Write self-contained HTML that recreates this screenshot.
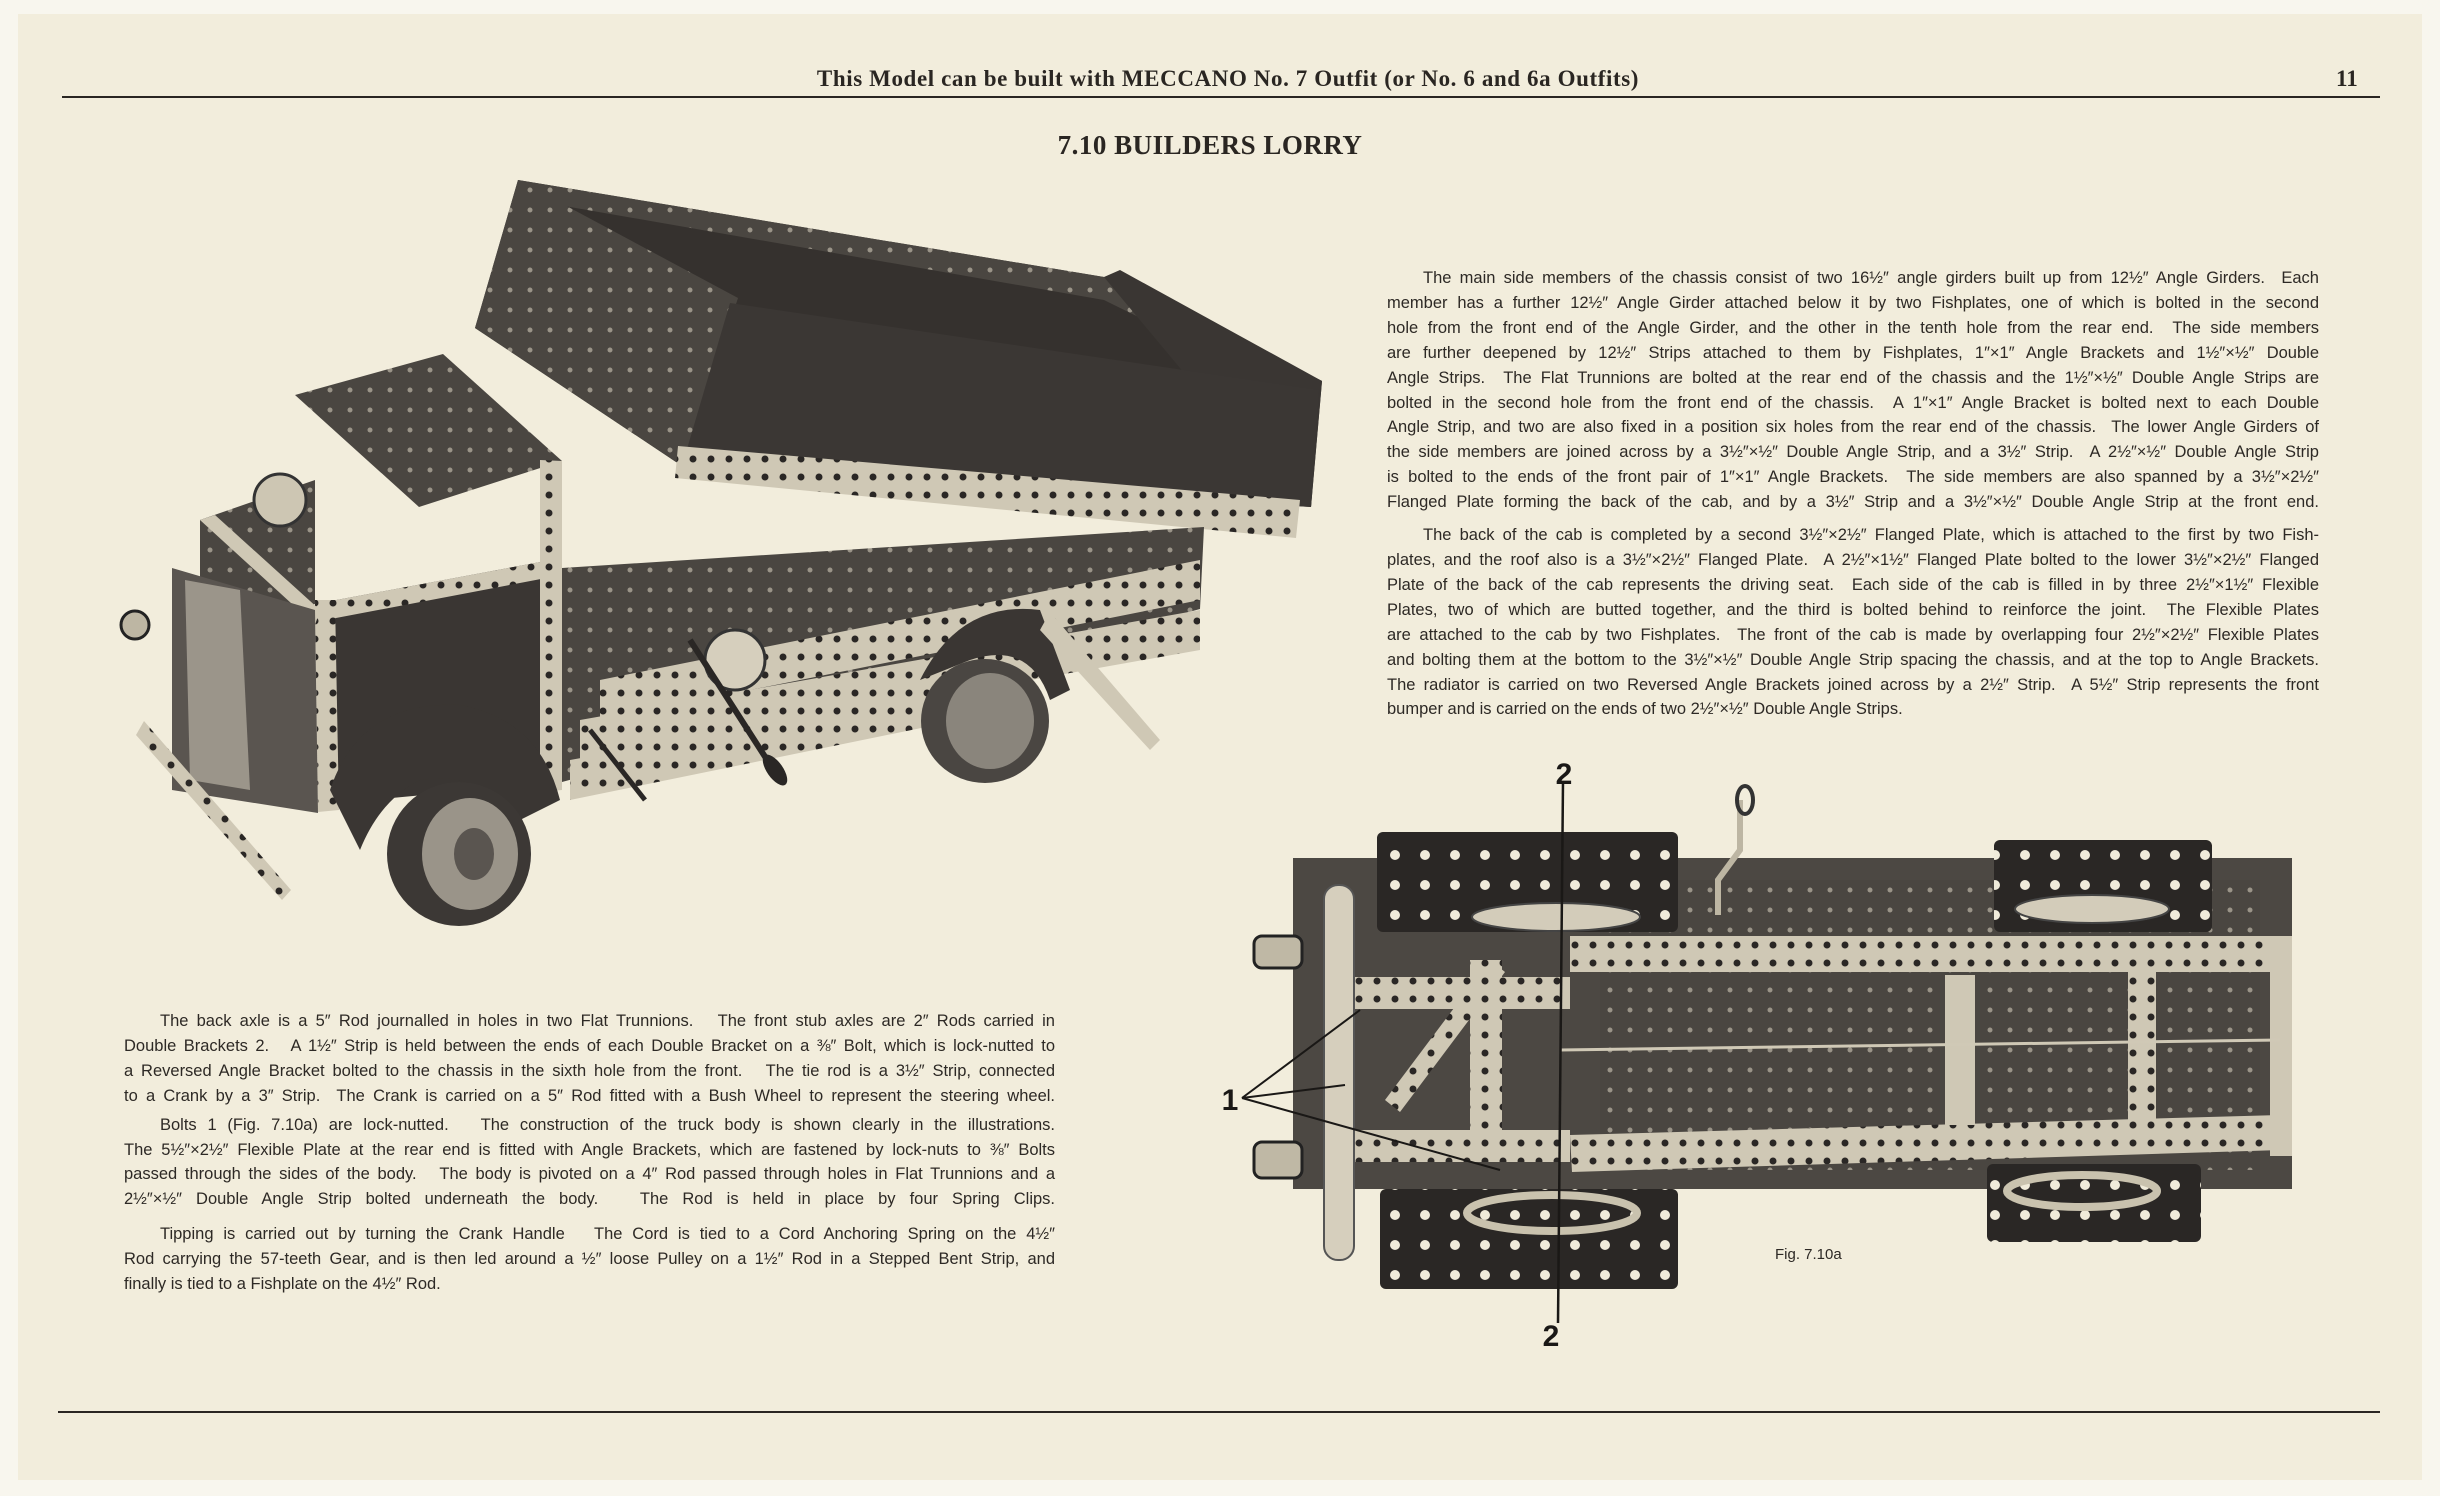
<!DOCTYPE html>
<html><head><meta charset="utf-8">
<style>
html,body{margin:0;padding:0;}
body{width:2440px;height:1496px;background:#f8f6ee;position:relative;overflow:hidden;font-family:"Liberation Sans",sans-serif;color:#2a2622;}
#page{position:absolute;left:18px;top:14px;width:2404px;height:1466px;background:#f2eddc;}
.abs{position:absolute;}
.hline{position:absolute;height:2px;background:#2a2622;}
.hdr{position:absolute;top:66px;left:620px;width:1216px;text-align:center;font-family:"Liberation Serif",serif;font-weight:bold;font-size:23px;letter-spacing:0.6px;}
.pg{position:absolute;top:66px;left:2336px;font-family:"Liberation Serif",serif;font-weight:bold;font-size:23px;}
.title{position:absolute;top:130px;left:900px;width:620px;text-align:center;font-family:"Liberation Serif",serif;font-weight:bold;font-size:27px;letter-spacing:0.5px;}
.txt{position:absolute;font-size:16.5px;line-height:24.9px;color:#2d2925;}
.txt div{text-align:justify;text-align-last:justify;white-space:nowrap;}
.txt div.l{text-align-last:left;}
.txt div.i{padding-left:36px;}
.gap{height:8px;}
svg text{font-family:"Liberation Sans",sans-serif;}
</style></head><body>
<div id="page"></div>
<div class="hline" style="left:62px;top:96px;width:2318px;"></div>
<div class="hdr">This Model can be built with MECCANO No. 7 Outfit (or No. 6 and 6a Outfits)</div>
<div class="pg">11</div>
<div class="title">7.10 BUILDERS LORRY</div>

<div class="txt" style="left:1387px;top:266px;width:932px;">
<div class="i">The main side members of the chassis consist of two 16½″ angle girders built up from 12½″ Angle Girders.&nbsp; Each</div>
<div>member has a further 12½″ Angle Girder attached below it by two Fishplates, one of which is bolted in the second</div>
<div>hole from the front end of the Angle Girder, and the other in the tenth hole from the rear end.&nbsp; The side members</div>
<div>are further deepened by 12½″ Strips attached to them by Fishplates, 1″×1″ Angle Brackets and 1½″×½″ Double</div>
<div>Angle Strips.&nbsp; The Flat Trunnions are bolted at the rear end of the chassis and the 1½″×½″ Double Angle Strips are</div>
<div>bolted in the second hole from the front end of the chassis.&nbsp; A 1″×1″ Angle Bracket is bolted next to each Double</div>
<div>Angle Strip, and two are also fixed in a position six holes from the rear end of the chassis.&nbsp; The lower Angle Girders of</div>
<div>the side members are joined across by a 3½″×½″ Double Angle Strip, and a 3½″ Strip.&nbsp; A 2½″×½″ Double Angle Strip</div>
<div>is bolted to the ends of the front pair of 1″×1″ Angle Brackets.&nbsp; The side members are also spanned by a 3½″×2½″</div>
<div>Flanged Plate forming the back of the cab, and by a 3½″ Strip and a 3½″×½″ Double Angle Strip at the front end.</div>
<div class="gap"></div>
<div class="i">The back of the cab is completed by a second 3½″×2½″ Flanged Plate, which is attached to the first by two Fish-</div>
<div>plates, and the roof also is a 3½″×2½″ Flanged Plate.&nbsp; A 2½″×1½″ Flanged Plate bolted to the lower 3½″×2½″ Flanged</div>
<div>Plate of the back of the cab represents the driving seat.&nbsp; Each side of the cab is filled in by three 2½″×1½″ Flexible</div>
<div>Plates, two of which are butted together, and the third is bolted behind to reinforce the joint.&nbsp; The Flexible Plates</div>
<div>are attached to the cab by two Fishplates.&nbsp; The front of the cab is made by overlapping four 2½″×2½″ Flexible Plates</div>
<div>and bolting them at the bottom to the 3½″×½″ Double Angle Strip spacing the chassis, and at the top to Angle Brackets.</div>
<div>The radiator is carried on two Reversed Angle Brackets joined across by a 2½″ Strip.&nbsp; A 5½″ Strip represents the front</div>
<div class="l">bumper and is carried on the ends of two 2½″×½″ Double Angle Strips.</div>
</div>

<div class="txt" style="left:124px;top:1009px;width:931px;">
<div class="i">The back axle is a 5″ Rod journalled in holes in two Flat Trunnions.&nbsp;&nbsp; The front stub axles are 2″ Rods carried in</div>
<div>Double Brackets 2.&nbsp;&nbsp; A 1½″ Strip is held between the ends of each Double Bracket on a ⅜″ Bolt, which is lock-nutted to</div>
<div>a Reversed Angle Bracket bolted to the chassis in the sixth hole from the front.&nbsp;&nbsp; The tie rod is a 3½″ Strip, connected</div>
<div>to a Crank by a 3″ Strip.&nbsp; The Crank is carried on a 5″ Rod fitted with a Bush Wheel to represent the steering wheel.</div>
<div class="gap" style="height:4px"></div>
<div class="i">Bolts 1 (Fig. 7.10a) are lock-nutted.&nbsp;&nbsp; The construction of the truck body is shown clearly in the illustrations.</div>
<div>The 5½″×2½″ Flexible Plate at the rear end is fitted with Angle Brackets, which are fastened by lock-nuts to ⅜″ Bolts</div>
<div>passed through the sides of the body.&nbsp;&nbsp; The body is pivoted on a 4″ Rod passed through holes in Flat Trunnions and a</div>
<div>2½″×½″ Double Angle Strip bolted underneath the body.&nbsp;&nbsp; The Rod is held in place by four Spring Clips.</div>
<div class="gap" style="height:10px"></div>
<div class="i">Tipping is carried out by turning the Crank Handle&nbsp;&nbsp; The Cord is tied to a Cord Anchoring Spring on the 4½″</div>
<div>Rod carrying the 57-teeth Gear, and is then led around a ½″ loose Pulley on a 1½″ Rod in a Stepped Bent Strip, and</div>
<div class="l">finally is tied to a Fishplate on the 4½″ Rod.</div>
</div>

<div class="hline" style="left:58px;top:1411px;width:2322px;"></div>

<svg class="abs" style="left:0;top:0" width="2440" height="1496" viewBox="0 0 2440 1496">
<defs>
<pattern id="h2" width="30" height="30" patternUnits="userSpaceOnUse"><rect width="30" height="30" fill="#2a2725"/><circle cx="15" cy="15" r="5" fill="#f0ebda"/></pattern>
<pattern id="hs" width="18" height="18" patternUnits="userSpaceOnUse"><rect width="18" height="18" fill="#cfc8b5"/><circle cx="9" cy="9" r="3.5" fill="#2a2725"/></pattern>
<pattern id="hd" width="20" height="20" patternUnits="userSpaceOnUse"><rect width="20" height="20" fill="#4a4641"/><circle cx="10" cy="10" r="2.5" fill="#9a9488"/></pattern>
</defs>
<!-- TRUCK -->
<g>
<!-- box interior fill -->
<polygon points="518,180 1104,277 1322,381 1311,507 682,466 475,328" fill="#35312e"/>
<polygon points="518,180 1104,277 1322,381 1307,400 1104,300 530,200" fill="url(#hd)"/>
<polygon points="1104,277 1120,270 1322,381 1311,507 1290,500" fill="#3a3633"/>
<polygon points="518,180 738,298 682,466 475,328" fill="url(#hd)"/>
<polygon points="730,303 1319,390 1311,507 682,466" fill="#3b3734"/>
<polygon points="678,446 1300,500 1296,538 675,478" fill="url(#hs)"/>
<!-- chassis -->
<polygon points="562,568 1204,527 1200,609 562,782" fill="url(#hd)"/>
<polygon points="600,680 1200,560 1200,600 600,720" fill="url(#hs)"/>
<polygon points="580,720 1200,610 1200,650 580,760" fill="url(#hs)"/>
<polygon points="570,760 960,690 960,720 570,800" fill="url(#hs)"/>
<!-- rear wheel & mudguard -->
<ellipse cx="985" cy="721" rx="64" ry="62" fill="#4a4642"/>
<ellipse cx="990" cy="721" rx="44" ry="48" fill="#8a857c"/>
<path d="M920,680 Q960,600 1040,610 L1070,690 L1050,700 Q1030,640 970,660 Z" fill="#3a3633"/>
<polygon points="1050,612 1160,740 1150,750 1040,630" fill="#cfc8b5"/>
<!-- cab -->
<polygon points="200,520 315,480 315,604 200,640" fill="url(#hd)"/>
<polygon points="295,395 443,354 562,461 419,507" fill="url(#hd)"/>
<polygon points="315,604 562,558 562,782 339,803" fill="#3a3633"/>
<polygon points="315,604 562,558 562,575 315,622" fill="url(#hs)"/>
<polygon points="540,460 562,461 562,790 540,792" fill="url(#hs)"/>
<polygon points="315,600 335,600 339,810 318,812" fill="url(#hs)"/>
<polygon points="200,520 215,515 320,610 315,625" fill="#cfc8b5"/>
<polygon points="172,568 315,610 318,813 172,790" fill="#5a5550"/>
<polygon points="185,580 240,590 250,790 190,780" fill="#9b958a"/>
<circle cx="280" cy="500" r="26" fill="#cdc6b3" stroke="#333" stroke-width="3"/>
<circle cx="135" cy="625" r="14" fill="#bdb6a3" stroke="#222" stroke-width="3"/>
<polygon points="144,721 291,890 282,900 136,735" fill="url(#hs)"/>
<path d="M330,790 Q360,700 460,705 Q540,720 560,800 L520,820 Q480,770 420,780 Q380,800 360,850 Z" fill="#3a3633"/>
<ellipse cx="459" cy="854" rx="72" ry="72" fill="#3c3835"/>
<ellipse cx="470" cy="854" rx="48" ry="56" fill="#9a9489"/>
<ellipse cx="474" cy="854" rx="20" ry="26" fill="#5a5550"/>
<circle cx="735" cy="660" r="30" fill="#d6cfbd" stroke="#333" stroke-width="3"/>
<line x1="690" y1="640" x2="780" y2="780" stroke="#2a2725" stroke-width="6"/>
<ellipse cx="775" cy="770" rx="8" ry="18" transform="rotate(-35 775 770)" fill="#2a2725"/>
<line x1="590" y1="730" x2="645" y2="800" stroke="#2a2725" stroke-width="5"/>
</g>

<!-- CHASSIS FIGURE -->
<g>
<rect x="1293" y="858" width="999" height="331" fill="#4c4843"/>
<rect x="1600" y="880" width="660" height="290" fill="url(#hd)"/>
<rect x="1377" y="832" width="301" height="100" rx="6" fill="url(#h2)"/>
<rect x="1994" y="840" width="218" height="92" rx="6" fill="url(#h2)"/>
<rect x="1380" y="1189" width="298" height="100" rx="6" fill="url(#h2)"/>
<rect x="1987" y="1164" width="214" height="78" rx="6" fill="url(#h2)"/>
<ellipse cx="1556" cy="917" rx="84" ry="14" fill="#d3ccba" stroke="#444" stroke-width="2"/>
<ellipse cx="2092" cy="909" rx="77" ry="14" fill="#d3ccba" stroke="#444" stroke-width="2"/>
<ellipse cx="1552" cy="1213" rx="85" ry="18" fill="none" stroke="#c9c2ae" stroke-width="8"/>
<ellipse cx="2082" cy="1191" rx="75" ry="16" fill="none" stroke="#c9c2ae" stroke-width="8"/>
<rect x="1570" y="936" width="719" height="36" fill="url(#hs)"/>
<polygon points="1570,1135 2280,1115 2282,1150 1572,1172" fill="url(#hs)"/>
<rect x="1338" y="977" width="232" height="32" fill="url(#hs)"/>
<rect x="1338" y="1130" width="232" height="32" fill="url(#hs)"/>
<rect x="1470" y="960" width="32" height="200" fill="url(#hs)"/>
<polygon points="1385,1100 1490,960 1505,972 1400,1112" fill="url(#hs)"/>
<rect x="1945" y="975" width="30" height="150" fill="#cfc8b5"/>
<rect x="2128" y="945" width="28" height="190" fill="url(#hs)"/>
<rect x="2270" y="936" width="22" height="220" fill="#cfc8b5"/>
<rect x="1324" y="885" width="30" height="375" rx="14" fill="#d6cfbd" stroke="#555" stroke-width="2"/>
<rect x="1254" y="936" width="48" height="32" rx="8" fill="#bfb8a5" stroke="#222" stroke-width="3"/>
<rect x="1254" y="1142" width="48" height="36" rx="8" fill="#bfb8a5" stroke="#222" stroke-width="3"/>
<path d="M1740,800 L1740,850 L1718,880 L1718,915" stroke="#bdb6a3" stroke-width="6" fill="none"/>
<ellipse cx="1745" cy="800" rx="8" ry="14" fill="none" stroke="#333" stroke-width="4"/>
<line x1="1560" y1="1050" x2="2280" y2="1040" stroke="#d0c9b6" stroke-width="3"/>
<line x1="1563" y1="781" x2="1558" y2="1323" stroke="#1a1816" stroke-width="2.5"/>
<line x1="1242" y1="1098" x2="1360" y2="1010" stroke="#1a1816" stroke-width="2"/>
<line x1="1242" y1="1098" x2="1345" y2="1085" stroke="#1a1816" stroke-width="2"/>
<line x1="1242" y1="1098" x2="1500" y2="1170" stroke="#1a1816" stroke-width="2"/>
<text x="1564" y="784" font-size="30" font-weight="bold" text-anchor="middle" fill="#1a1816">2</text>
<text x="1551" y="1346" font-size="30" font-weight="bold" text-anchor="middle" fill="#1a1816">2</text>
<text x="1230" y="1110" font-size="30" font-weight="bold" text-anchor="middle" fill="#1a1816">1</text>
<text x="1775" y="1259" font-size="15" fill="#2d2925">Fig. 7.10a</text>
</g>
</svg>
</body></html>
